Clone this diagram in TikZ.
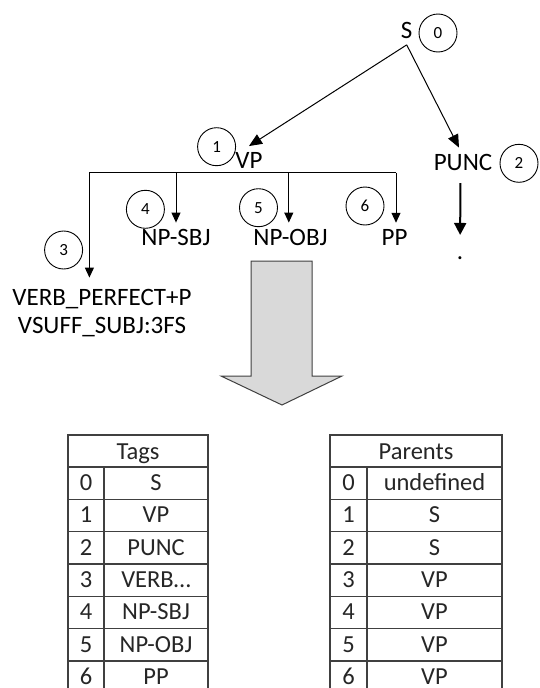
\documentclass[tikz,border=0pt]{standalone}
\usepackage{fontspec}
\setmainfont{Carlito}
\usetikzlibrary{arrows.meta}
\begin{document}
\begin{tikzpicture}[x=1pt,y=-1pt,
  lbl/.style={font=\fontsize{25}{29}\selectfont, anchor=base, inner sep=6pt},
  num/.style={draw, circle, minimum size=38pt, inner sep=0pt, line width=0.9pt, font=\fontsize{17}{20}\selectfont},
  edgearr/.style={line width=1pt, -{Triangle[width=11pt,length=13pt]}},
  kidarr/.style={line width=1pt, -{Triangle[width=9pt,length=10pt]}},
  bigarr/.style={line width=2pt, -{Triangle[width=12pt,length=12pt]}},
  tline/.style={line width=1.1pt, draw=black!75},
  ttext/.style={font=\fontsize{24.5}{28}\selectfont, anchor=base, inner sep=0pt, text=black!85},
  blockarrow/.style={fill=gray!30, draw=black!75, line width=1pt}
]
\fill[white] (0,0) rectangle (539,688);
\useasboundingbox (0,0) rectangle (539,688);

% tree labels
\node[lbl] (s) at (406.7,38.5) {S};
\node[lbl] (vp) at (249,168.3) {VP};
\node[lbl] (punc) at (463,170) {PUNC};
\node[lbl] (npsbj) at (176,245) {NP-SBJ};
\node[lbl] (npobj) at (290.5,245) {NP-OBJ};
\node[lbl] (pp) at (394.6,245) {PP};
\node[lbl, inner ysep=11pt] (verba) at (102,305) {VERB\_PERFECT+P};
\node[lbl] (verbb) at (102,333) {VSUFF\_SUBJ:3FS};
\node[lbl, inner sep=0pt] (dot) at (460,259) {.};

% number circles
\node[num] (n0) at (438,33) {0};
\node[num] (n1) at (216.6,146.7) {1};
\node[num] (n2) at (519,163.3) {2};
\node[num] (n3) at (63.6,250) {3};
\node[num] (n4) at (145.4,209.3) {4};
\node[num] (n5) at (258.5,207.7) {5};
\node[num] (n6) at (365,206) {6};

% edges from S
\draw[edgearr] (s.south) -- (vp.north);
\draw[edgearr] (s.south) -- ([xshift=-4pt]punc.north);

% VP bar
\coordinate (c3) at (89.4,172.7);
\coordinate (c4) at (176,172.7);
\coordinate (c5) at (288.8,172.7);
\coordinate (c6) at (396,172.7);
\draw[line width=1pt] (c3) -- (c6);
\draw[kidarr] (c3) -- (c3 |- verba.north);
\draw[kidarr] (c4) -- (c4 |- npsbj.north);
\draw[kidarr] (c5) -- (c5 |- npobj.north);
\draw[kidarr] (c6) -- (c6 |- pp.north);

% PUNC to dot
\draw[bigarr, shorten <=6.7pt, shorten >=21pt] ([xshift=-2.5pt]punc.south) -- (dot.north);

% big block arrow
\draw[blockarrow] (251,261) -- (312,261) -- (312,376) -- (342,376) -- (282,405) -- (221,376) -- (251,376) -- cycle;

% Tags table
\draw[tline] (68,688) -- (68,435) -- (208,435) -- (208,688);
\draw[tline] (104,467) -- (104,688);
\foreach \k in {0,...,6} {
  \draw[tline] (68,{467+32.33*\k}) -- (208,{467+32.33*\k});
}
\node[ttext] (tagshead) at (138,459) {Tags};
\foreach \k/\v in {0/S,1/VP,2/PUNC,3/{VERB…},4/NP-SBJ,5/NP-OBJ,6/PP} {
  \node[ttext] (ti\k) at (86,{467+32.33*\k+23.5}) {\k};
  \node[ttext] (tv\k) at (156,{467+32.33*\k+23.5}) {\v};
}

% Parents table
\draw[tline] (330,688) -- (330,435) -- (502,435) -- (502,688);
\draw[tline] (367,467) -- (367,688);
\foreach \k in {0,...,6} {
  \draw[tline] (330,{467+32.33*\k}) -- (502,{467+32.33*\k});
}
\node[ttext] (parhead) at (416,459) {Parents};
\foreach \k/\v in {0/undefined,1/S,2/S,3/VP,4/VP,5/VP,6/VP} {
  \node[ttext] (pi\k) at (348.5,{467+32.33*\k+23.5}) {\k};
  \node[ttext] (pv\k) at (434.5,{467+32.33*\k+23.5}) {\v};
}
\end{tikzpicture}
\end{document}
